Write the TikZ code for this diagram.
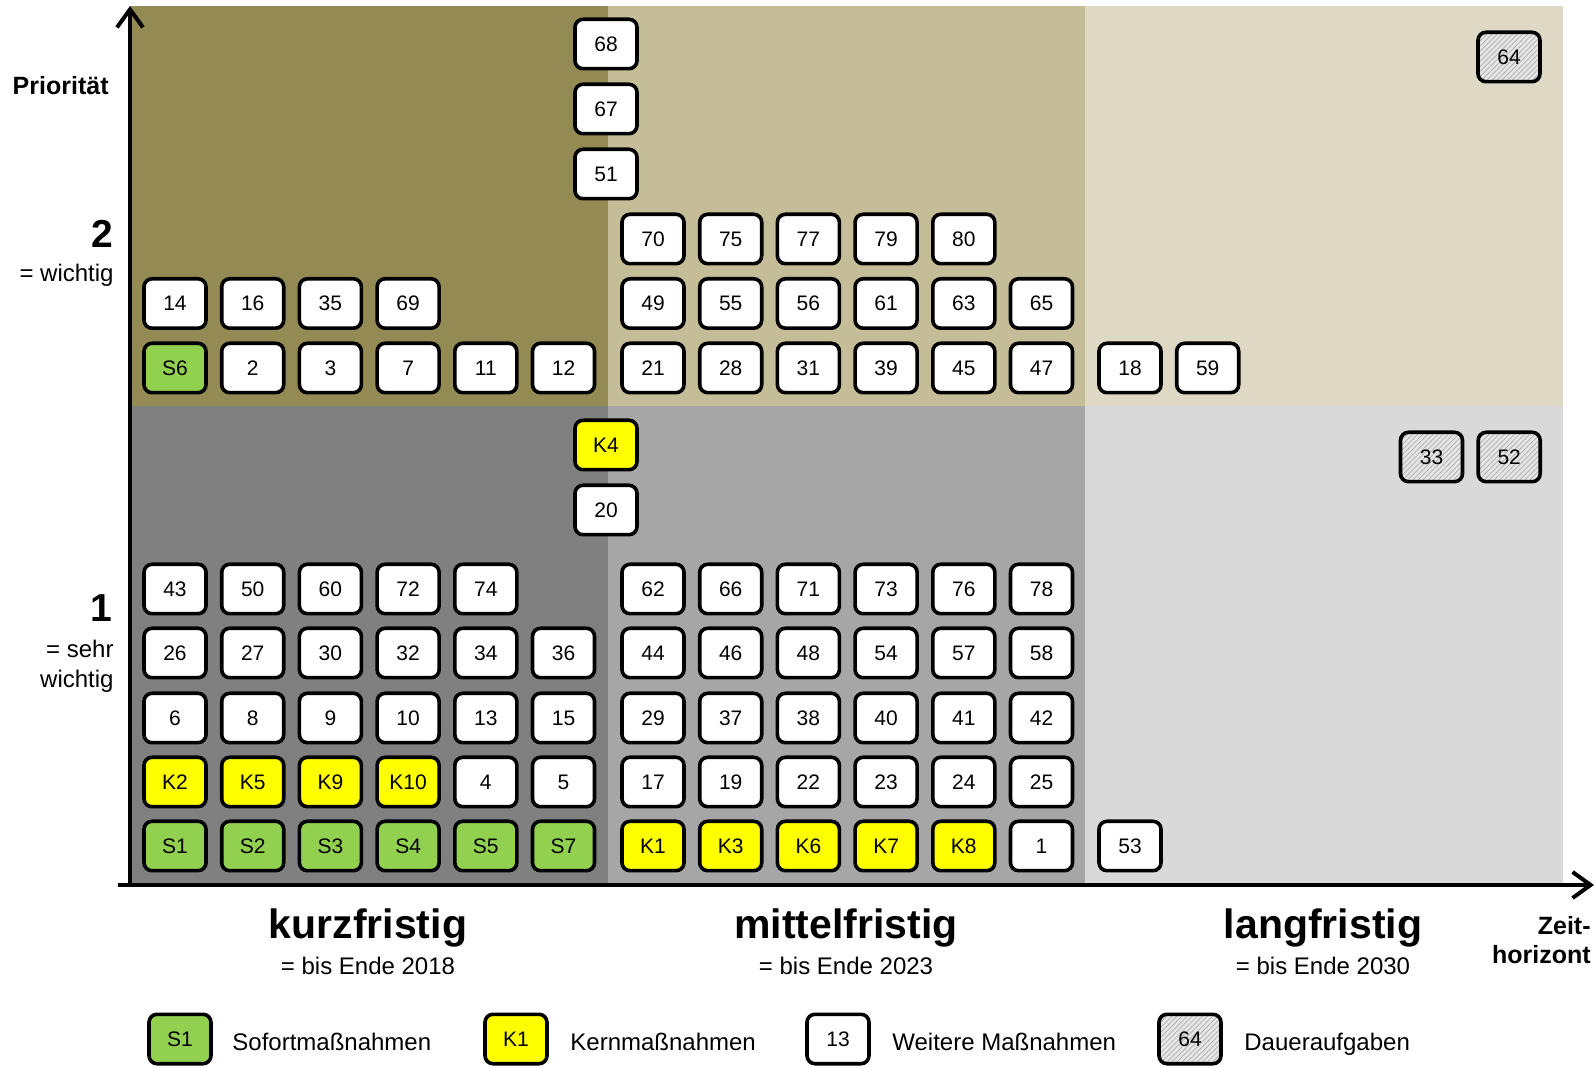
\documentclass[tikz,border=0pt]{standalone}
\usepackage{fontspec}
\setmainfont{Liberation Sans}
\usetikzlibrary{arrows.meta, patterns.meta}
\definecolor{KurzWichtig}{HTML}{948A54}
\definecolor{MittelWichtig}{HTML}{C4BD97}
\definecolor{LangWichtig}{HTML}{DDD9C4}
\definecolor{KurzSehr}{HTML}{808080}
\definecolor{MittelSehr}{HTML}{A6A6A6}
\definecolor{LangSehr}{HTML}{D9D9D9}
\definecolor{Sofort}{HTML}{92D050}
\definecolor{Kern}{HTML}{FFFF00}
\definecolor{Dauer}{HTML}{E6E6E6}

% one row of measures: kind, first x, y, labels
\newcommand{\massrow}[4]{%
  \foreach \lab [count=\i from 0] in {#4}
    \node[mbox, #1] (m\lab) at ({#2+77.7*\i}, #3) {\lab};}

\begin{document}
\begin{tikzpicture}[
      x=0.5pt, y=-0.5pt,
      mbox/.style={rectangle, draw=black, line width=1.8pt, rounded corners=4pt, minimum width=31pt, minimum height=24.7pt, inner sep=0pt, font=\fontsize{10.5}{12}\selectfont},
      sofort/.style={fill=Sofort},
      kern/.style={fill=Kern},
      weiter/.style={fill=white},
      dauer/.style={preaction={fill=Dauer}, pattern={Lines[angle=45, distance=1.8pt, line width=0.35pt]}, pattern color=gray!65},
      axis/.style={line width=2pt, -{Straight Barb[length=9pt, width=13pt]}},
      lab/.style={inner sep=0pt, font=\fontsize{12}{15}\selectfont},
      boldlab/.style={inner sep=0pt, align=right, font=\fontsize{12.5}{14.5}\selectfont\bfseries},
      prio/.style={inner sep=0pt, font=\fontsize{19.5}{22}\selectfont\bfseries},
      zeit/.style={inner sep=0pt, font=\fontsize{20.5}{23}\selectfont\bfseries},
  ]
  \useasboundingbox (0,0) rectangle (1596,1068);

  % Quadrants
  \fill[KurzWichtig] (130,6) rectangle (608,406);
  \fill[MittelWichtig] (608,6) rectangle (1085,406);
  \fill[LangWichtig] (1085,6) rectangle (1563,406);
  \fill[KurzSehr] (130,406) rectangle (608,885);
  \fill[MittelSehr] (608,406) rectangle (1085,885);
  \fill[LangSehr] (1085,406) rectangle (1563,885);

  % Axes
  \coordinate (origin) at (130,885);
  \coordinate (xstart) at (118,885);
  \coordinate (ytip) at (130,6);
  \coordinate (xtip) at (1594,885);
  \draw[axis] (origin) -- (ytip);
  \draw[axis] (xstart) -- (xtip);

  % Axis labels
  \node[boldlab, anchor=base east] (prioritaet) at (109,95) {Priorität};
  \node[prio, anchor=base east] (p2) at (114,248) {2};
  \node[lab, anchor=base east] (p2text) at (114,282) {= wichtig};
  \node[prio, anchor=base east] (p1) at (113,622) {1};
  \node[lab, anchor=east, align=right] (p1text) at (114,666) {= sehr\\wichtig};
  \node[boldlab, anchor=east] (zeithorizont) at (1591,940) {Zeit-\\horizont};

  \node[zeit, anchor=base] (kurz) at (368,938) {kurzfristig};
  \node[lab, anchor=base] (kurztext) at (368,974) {= bis Ende 2018};
  \node[zeit, anchor=base] (mittel) at (846,938) {mittelfristig};
  \node[lab, anchor=base] (mitteltext) at (846,974) {= bis Ende 2023};
  \node[zeit, anchor=base] (lang) at (1323,938) {langfristig};
  \node[lab, anchor=base] (langtext) at (1323,974) {= bis Ende 2030};

  % Priority 2
  \massrow{sofort}{175}{368}{S6}
  \massrow{weiter}{252.7}{368}{2,3,7,11,12}
  \massrow{weiter}{175}{303.5}{14,16,35,69}
  \massrow{weiter}{653}{368}{21,28,31,39,45,47}
  \massrow{weiter}{653}{303.5}{49,55,56,61,63,65}
  \massrow{weiter}{653}{239}{70,75,77,79,80}
  \massrow{weiter}{1130}{368}{18,59}
  \node[mbox, weiter] (m51) at (606,174) {51};
  \node[mbox, weiter] (m67) at (606,109) {67};
  \node[mbox, weiter] (m68) at (606,44) {68};
  \node[mbox, dauer] (m64) at (1509,57) {64};

  % Priority 1
  \node[mbox, kern] (mK4) at (606,445) {K4};
  \node[mbox, weiter] (m20) at (606,510) {20};
  \massrow{dauer}{1431.5}{457}{33,52}
  \massrow{weiter}{175}{589}{43,50,60,72,74}
  \massrow{weiter}{653}{589}{62,66,71,73,76,78}
  \massrow{weiter}{175}{653}{26,27,30,32,34,36}
  \massrow{weiter}{653}{653}{44,46,48,54,57,58}
  \massrow{weiter}{175}{718}{6,8,9,10,13,15}
  \massrow{weiter}{653}{718}{29,37,38,40,41,42}
  \massrow{kern}{175}{782}{K2,K5,K9,K10}
  \massrow{weiter}{485.8}{782}{4,5}
  \massrow{weiter}{653}{782}{17,19,22,23,24,25}
  \massrow{sofort}{175}{846}{S1,S2,S3,S4,S5,S7}
  \massrow{kern}{653}{846}{K1,K3,K6,K7,K8}
  \node[mbox, weiter] (m1) at (1041.5,846) {1};
  \node[mbox, weiter] (m53) at (1130,846) {53};

  % Legend
  \node[mbox, sofort] (legS) at (180,1039) {S1};
  \node[lab, anchor=base west] (legStext) at (232,1050) {Sofortmaßnahmen};
  \node[mbox, kern] (legK) at (516,1039) {K1};
  \node[lab, anchor=base west] (legKtext) at (570,1050) {Kernmaßnahmen};
  \node[mbox, weiter] (legW) at (838,1039) {13};
  \node[lab, anchor=base west] (legWtext) at (892,1050) {Weitere Maßnahmen};
  \node[mbox, dauer] (legD) at (1190,1039) {64};
  \node[lab, anchor=base west] (legDtext) at (1244,1050) {Daueraufgaben};

\end{tikzpicture}
\end{document}
